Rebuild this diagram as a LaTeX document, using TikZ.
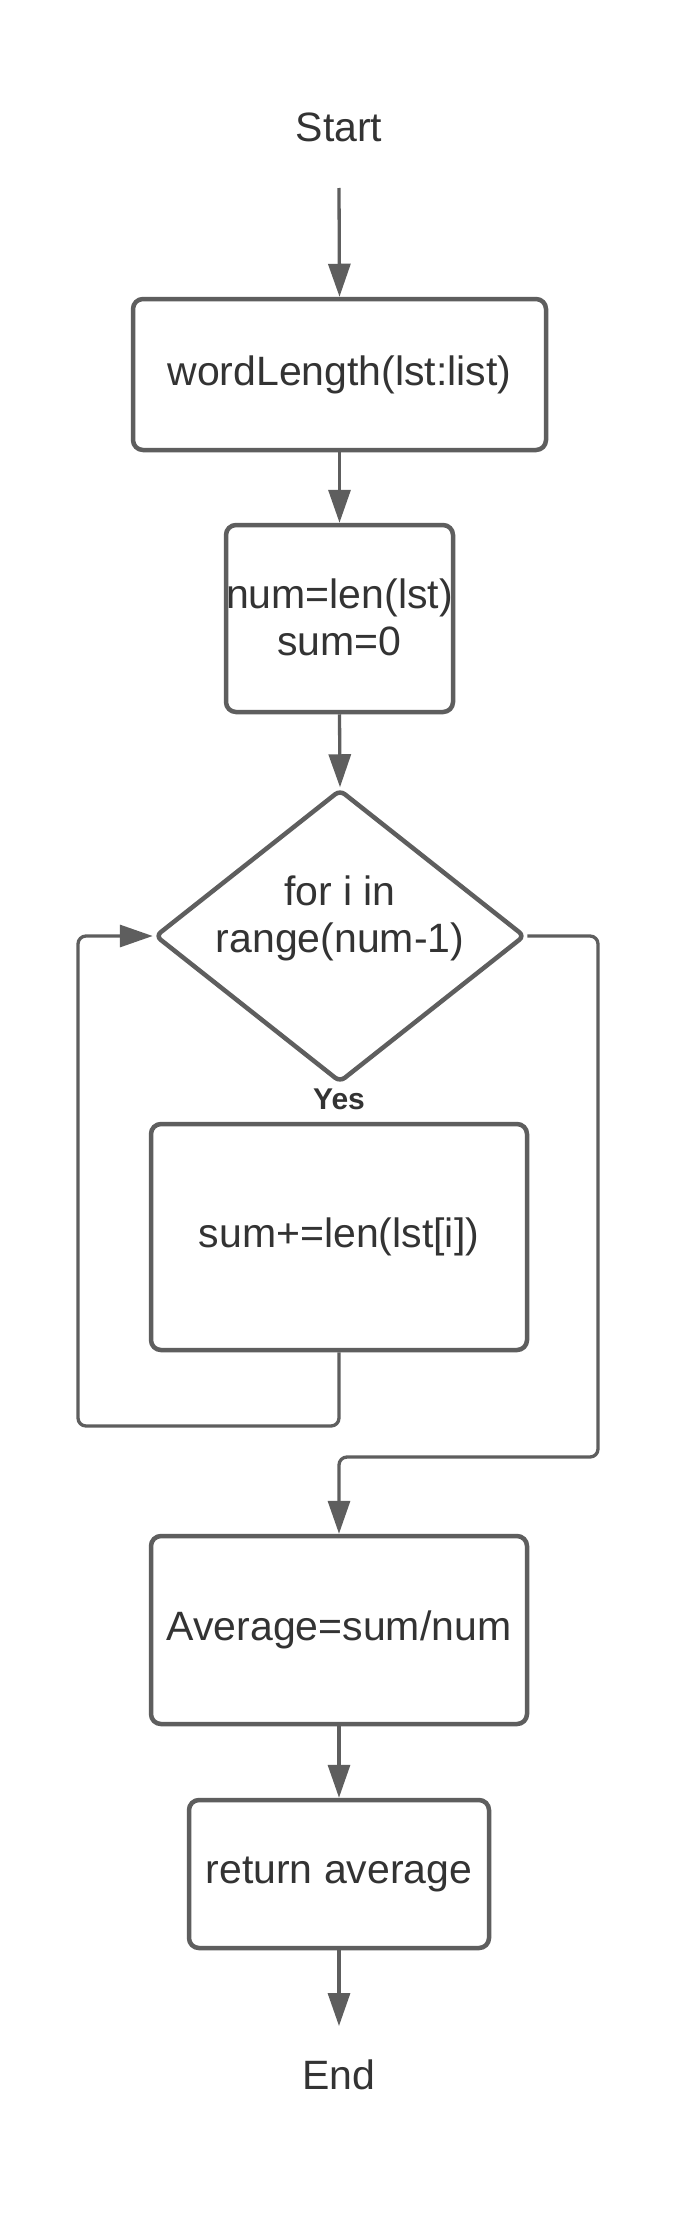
\documentclass[tikz,border=0pt]{standalone}
\usepackage{fontspec}
\setmainfont{Liberation Sans}
\usetikzlibrary{shapes.geometric,arrows.meta}
\definecolor{ln}{RGB}{94,94,94}
\definecolor{tx}{RGB}{51,51,51}
\begin{document}
\begin{tikzpicture}[x=1pt,y=-1pt,
  every node/.style={text=tx, font=\fontsize{41}{47}\selectfont},
  box/.style={draw=ln, line width=4.5pt, rounded corners=10pt, align=center, inner sep=0pt},
  dia/.style={draw=ln, line width=4.5pt, diamond, rounded corners=6pt, inner sep=0pt, aspect=1.26},
  conn/.style={draw=ln, line width=3.3pt, rounded corners=8pt, -{Triangle[length=33pt,width=22pt]}},
  yeslabel/.style={font=\bfseries\fontsize{30}{36}\selectfont}]
\useasboundingbox (0,0) rectangle (677,2213);
\fill[white] (0,0) rectangle (677,2213);

\node (start) at (339,127) {Start};
\node[box, minimum width=413pt, minimum height=151pt] (b1) at (339.5,374.5) {wordLength(lst:list)};
\node[box, minimum width=227pt, minimum height=187pt] (b2) at (339.5,618.5)
  {\raisebox{-10pt}[0pt][0pt]{\makebox[0pt]{\begin{tabular}{@{}c@{}}num=len(lst)\\sum=0\end{tabular}}}};
\node[dia, minimum width=370pt, minimum height=293pt] (d) at (340,936)
  {\raisebox{10pt}[0pt][0pt]{\makebox[0pt]{\begin{tabular}{@{}c@{}}for i in\\range(num-1)\end{tabular}}}};
\node[yeslabel] (yes) at (339,1099) {Yes};
\node[box, minimum width=376pt, minimum height=226pt] (b3) at (339,1237) {sum+=len(lst[i])};
\node[box, minimum width=376pt, minimum height=188pt] (b4) at (339,1630) {Average=sum/num};
\node[box, minimum width=300pt, minimum height=148pt] (b5) at (339,1874) {return average};
\node (end) at (339,2075) {End};

\coordinate (s0) at (339,188);
\coordinate (e0) at (339,2026);
\coordinate (lp) at (78,1426);
\coordinate (rp) at (598,1457);

\draw[conn] (s0) -- (b1.north);
\draw[conn] (b1.south) -- (b2.north);
\draw[conn] (b2.south) -- (d.north);
\draw[conn] (b3.south) |- (lp) |- (d.west);
\draw[conn] (d.east) -| (rp) -| (b4.north);
\draw[conn] (b4.south) -- (b5.north);
\draw[conn] (b5.south) -- (e0);
\end{tikzpicture}
\end{document}
